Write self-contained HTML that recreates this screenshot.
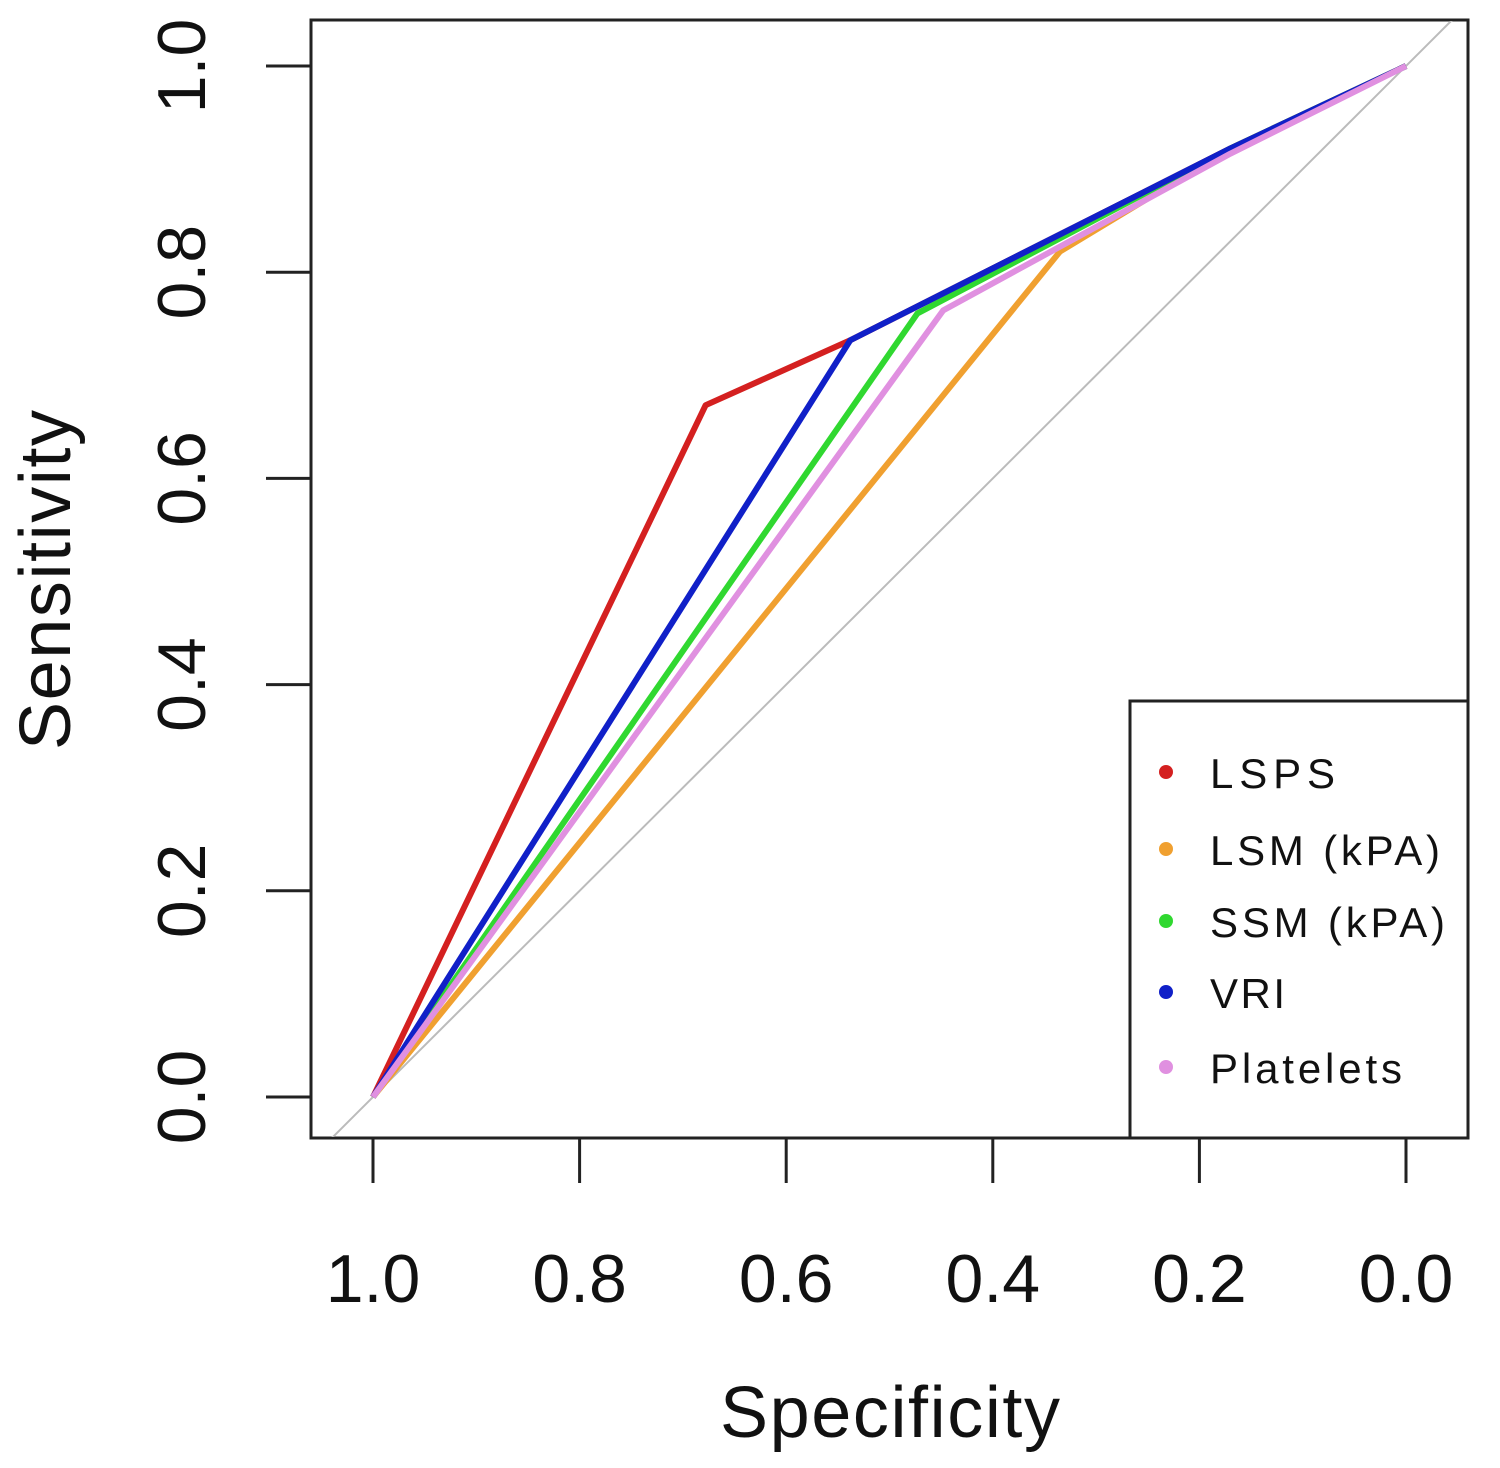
<!DOCTYPE html>
<html><head><meta charset="utf-8"><style>
html,body{margin:0;padding:0;background:#fff;}
svg{display:block;font-family:"Liberation Sans",Arial,sans-serif;}
</style></head><body>
<svg id="chart" width="1500" height="1468" viewBox="0 0 1500 1468">
<defs><clipPath id="cp"><rect x="312" y="21" width="1155" height="1116"/></clipPath></defs>
<g id="axes"></g><g id="series"></g><g id="legend"></g>
</svg>
<script>
const xTicks=[1.0,0.8,0.6,0.4,0.2,0.0];
const xTickLabels=["1.0","0.8","0.6","0.4","0.2","0.0"];
const yTicks=[0.0,0.2,0.4,0.6,0.8,1.0];
const yTickLabels=["0.0","0.2","0.4","0.6","0.8","1.0"];
const seriesNames=["LSPS","LSM (kPA)","SSM (kPA)","VRI","Platelets"];
const seriesColors=["#d42020","#f0a030","#30d830","#1020c8","#e090e0"];
const lsmSpec=[1,0.335,0.17,0];const lsmSens=[0,0.82,0.92,1];
const ssmSpec=[1,0.473,0.17,0];const ssmSens=[0,0.76,0.92,1];
const platSpec=[1,0.448,0.17,0];const platSens=[0,0.763,0.915,1];
const vriSpec=[1,0.538,0.17,0];const vriSens=[0,0.734,0.92,1];
const lspsSpec=[1,0.678,0.538,0.17,0];const lspsSens=[0,0.671,0.734,0.92,1];
const NS="http://www.w3.org/2000/svg";
const X=v=>373+(1-v)*1033;
const Y=v=>1097-v*1031;
function mk(t,a,p){const e=document.createElementNS(NS,t);for(const k in a)e.setAttribute(k,a[k]);p.appendChild(e);return e;}
const axes=document.getElementById('axes');
let frame=mk('rect',{x:311,y:20,width:1157,height:1118,fill:'none',stroke:'#222','stroke-width':3},axes);

let diag=mk('line',{x1:X(1.06),y1:Y(-0.06),x2:X(-0.06),y2:Y(1.06),stroke:'#bbb','stroke-width':2,'clip-path':'url(#cp)'},axes);

xTicks.forEach((v,i)=>{
 let t=mk('line',{x1:X(v),y1:1138,x2:X(v),y2:1183,stroke:'#222','stroke-width':3},axes);
 
 let l=mk('text',{x:X(v),y:1302,'font-size':68,'text-anchor':'middle',fill:'#111'},axes);l.textContent=xTickLabels[i];
 
});
yTicks.forEach((v,i)=>{
 let t=mk('line',{x1:266,y1:Y(v),x2:311,y2:Y(v),stroke:'#222','stroke-width':3},axes);
 
 let l=mk('text',{x:0,y:0,'font-size':68,'text-anchor':'middle',fill:'#111',transform:`translate(205,${Y(v)}) rotate(-90)`},axes);l.textContent=yTickLabels[i];
 
});
let xt=mk('text',{x:890,y:1437,'font-size':72,'text-anchor':'middle',fill:'#111',textLength:340},axes);xt.textContent='Specificity';

let yt=mk('text',{x:0,y:0,'font-size':72,'text-anchor':'middle',fill:'#111',textLength:340,transform:'translate(70,580) rotate(-90)'},axes);yt.textContent='Sensitivity';

const ser=document.getElementById('series');
const data=[[lspsSpec,lspsSens,0],[lsmSpec,lsmSens,1],[ssmSpec,ssmSens,2],[vriSpec,vriSens,3],[platSpec,platSens,4]];
data.forEach(([sx,sy,ci])=>{
 const pts=sx.map((s,j)=>X(s)+','+Y(sy[j])).join(' ');
 let p=mk('polyline',{points:pts,fill:'none',stroke:seriesColors[ci],'stroke-width':6,'stroke-linejoin':'round'},ser);
 
 
});
const lg=document.getElementById('legend');
let lb=mk('rect',{x:1130,y:701,width:338,height:437,fill:'#fff',stroke:'#222','stroke-width':3},lg);

const ly=[778,855,927,998,1073];
const lw=[125,230,235,75,192];
seriesNames.forEach((n,i)=>{
 let c=mk('circle',{cx:1166,cy:ly[i]-6,r:7,fill:seriesColors[i]},lg);
 
 let t=mk('text',{x:1210,y:ly[i]+10,'font-size':42,fill:'#111',textLength:lw[i]},lg);t.textContent=n;
 
});
</script>
</body></html>
